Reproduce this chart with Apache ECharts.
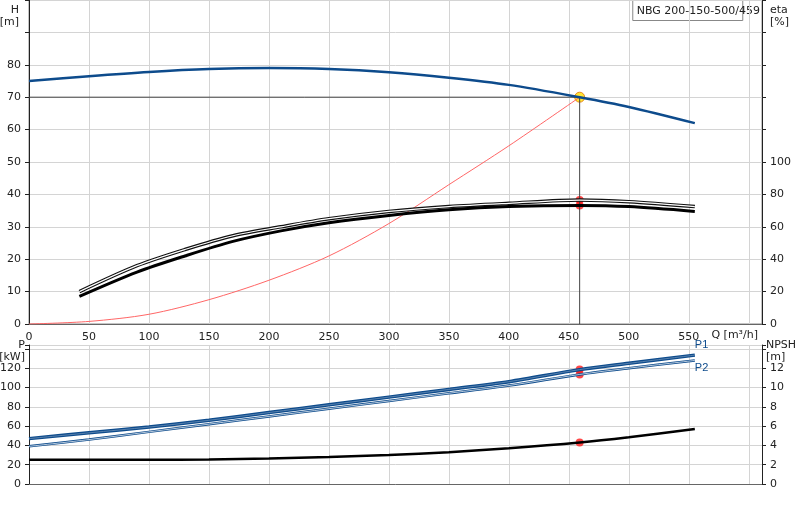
<!DOCTYPE html><html><head><meta charset="utf-8"><script src="https://cdn.jsdelivr.net/npm/echarts@6/dist/echarts.min.js"></script></head><body style="margin:0"><div id="c" style="width:800px;height:520px"></div><script>
const qH=[0,50,100,150,200,250,300,350,400,459,500,555];
const H=[75,76.5,77.8,78.7,79,78.7,77.7,76,73.8,70,67,62];
const qE=[42,90,130,170,210,250,300,350,400,459,500,555];
const etaUp=[20,36,46,54.5,60,65,69.5,72.5,74.5,76.5,75.5,72.5];
const etaLo=[17,32,42,51,57.5,62.5,67,70.5,72.5,73.2,72.5,69.5];
const qS=[0,50,100,150,200,250,300,350,400,459];
const sysH=[0,0.8,3,7.5,13.5,21,31,43,55,70];
const qP=[0,50,100,150,200,250,300,350,400,459,500,555];
const P1=[47,53,59,66,74,82,90,98,106,118.5,125,133.5];
const P2=[39,46,54,62,70,78,86,94,102,113.5,120,128];
const NPSH=[2.5,2.5,2.5,2.55,2.65,2.8,3.0,3.3,3.7,4.3,4.85,5.7];
const dutyQ=459,dutyH=70;
const z=(a,b)=>a.map((v,i)=>[v,b[i]]);
const gl={lineStyle:{color:'#d4d4d4'}};
const lab={color:'#222',fontSize:11,fontFamily:'DejaVu Sans'};
function line(data,x,y,color,w,extra){return Object.assign({type:'line',data,xAxisIndex:x,yAxisIndex:y,showSymbol:false,symbol:'none',smooth:0.3,lineStyle:{color,width:w},silent:true},extra||{});}
const ch=echarts.init(document.getElementById('c'));
ch.setOption({animation:false,
grid:[{left:29,right:38,top:0,height:324,show:true,borderColor:'#888',outerBoundsMode:'none',containLabel:false},{left:29,right:38,top:345,bottom:36,show:true,borderColor:'#fff',outerBoundsMode:'none',containLabel:false}],
xAxis:[{gridIndex:0,type:'value',min:0,max:611,interval:50,axisLine:{lineStyle:{color:'#666'}},axisTick:{show:false},splitLine:gl,axisLabel:Object.assign({formatter:v=>v>550?'':v},lab),name:'Q [m³/h]',nameLocation:'end',nameGap:-4,nameTextStyle:Object.assign({align:'right',verticalAlign:'top',padding:[6,0,0,0]},lab)},
{gridIndex:1,type:'value',min:0,max:611,interval:50,axisLine:{lineStyle:{color:'#666'}},axisTick:{show:false},splitLine:gl,axisLabel:{show:false}}],
yAxis:[{gridIndex:0,min:0,max:100,interval:10,axisLine:{show:true,lineStyle:{color:'#222'}},axisTick:{show:true,length:4},splitLine:gl,axisLabel:Object.assign({formatter:v=>v>80?'':v},lab),name:'H\n[m]',nameLocation:'end',nameGap:-28,nameTextStyle:Object.assign({align:'right',padding:[0,10,0,0],lineHeight:12},lab)},
{gridIndex:0,position:'right',min:0,max:200,interval:20,axisLine:{show:true,lineStyle:{color:'#222'}},axisTick:{show:true,length:4},splitLine:{show:false},axisLabel:Object.assign({formatter:v=>v>100?'':v},lab),name:'eta\n[%]',nameLocation:'end',nameGap:-28,nameTextStyle:Object.assign({align:'left',padding:[0,0,0,8],lineHeight:12},lab)},
{gridIndex:1,min:0,max:144,interval:20,axisLine:{show:true,lineStyle:{color:'#222'}},axisTick:{show:true,length:4},splitLine:gl,axisLabel:Object.assign({formatter:v=>v>120?'':v},lab),name:'P\n[kW]',nameLocation:'end',nameGap:-26,nameTextStyle:Object.assign({align:'right',padding:[0,4,0,0],lineHeight:12},lab)},
{gridIndex:1,position:'right',min:0,max:14.4,interval:2,axisLine:{show:true,lineStyle:{color:'#222'}},axisTick:{show:true,length:4},splitLine:{show:false},axisLabel:Object.assign({formatter:v=>v>12?'':v},lab),name:'NPSH\n[m]',nameLocation:'end',nameGap:-26,nameTextStyle:Object.assign({align:'left',padding:[0,0,0,4],lineHeight:12},lab)}],
graphic:[{type:'group',right:40,top:0,children:[{type:'rect',shape:{x:0,y:0,width:110,height:20},style:{fill:'#fff',stroke:'#888'}},{type:'text',style:{x:4,y:5,text:'NBG 200-150-500/459',font:'11px DejaVu Sans',fill:'#222'}}]}],
series:[
line([[0,dutyH],[dutyQ,dutyH]],0,0,'#444',1,{smooth:false}),
line([[dutyQ,dutyH],[dutyQ,0]],0,0,'#444',1,{smooth:false}),
line(z(qS,sysH),0,0,'#ff6666',1),
line(z(qH,H),0,0,'#0d4b8c',2.5,{markPoint:{symbol:'none',data:[{coord:[78,80],label:{show:true,formatter:'459 mm',color:'#222',fontSize:11,fontFamily:'DejaVu Sans'}}]}}),
line(z(qE,etaUp),0,1,'#111',3.5),
line(z(qE,etaUp),0,1,'#fff',1.2),
line(z(qE,etaLo),0,1,'#000',3),
{type:'scatter',xAxisIndex:0,yAxisIndex:1,data:[[dutyQ,etaUp[9]],[dutyQ,etaLo[9]]],symbolSize:8,itemStyle:{color:'#ff1a1a'}},
{type:'scatter',xAxisIndex:0,yAxisIndex:0,data:[[dutyQ,dutyH]],symbolSize:10,itemStyle:{color:'#ffe000',borderColor:'#e07000',borderWidth:1}},
line(z(qP,P1),1,2,'#0d4b8c',3.5,{endLabel:{show:true,formatter:'P1',color:'#0d4b8c',fontSize:11,offset:[-8,-10]}}),
line(z(qP,P1),1,2,'#6d8fb5',0.8),
line(z(qP,P2),1,2,'#0d4b8c',2.5,{endLabel:{show:true,formatter:'P2',color:'#0d4b8c',fontSize:11,offset:[-8,8]}}),
line(z(qP,P2),1,2,'#fff',0.7),
line(z(qP,NPSH),1,3,'#000',2.5),
{type:'scatter',xAxisIndex:1,yAxisIndex:2,data:[[dutyQ,P1[9]],[dutyQ,P2[9]]],symbolSize:8,itemStyle:{color:'#ff1a1a'}},
{type:'scatter',xAxisIndex:1,yAxisIndex:3,data:[[dutyQ,NPSH[9]]],symbolSize:8,itemStyle:{color:'#ff1a1a'}}
]});
</script></body></html>
